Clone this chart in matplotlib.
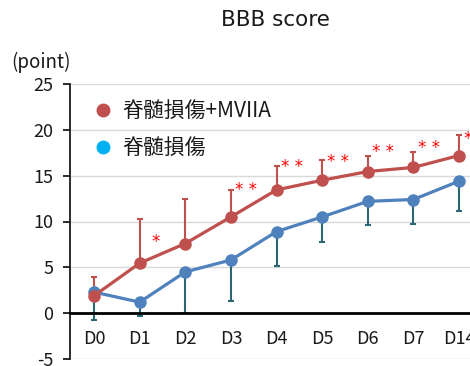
import matplotlib
matplotlib.use("Agg")
import matplotlib.pyplot as plt
from matplotlib.lines import Line2D

plt.rcParams['font.family'] = ['Noto Sans CJK JP', 'DejaVu Sans']
plt.rcParams['axes.unicode_minus'] = False

days = ['D0', 'D1', 'D2', 'D3', 'D4', 'D5', 'D6', 'D7', 'D14']

# BBB score, spinal cord injury + MVIIA (mean, upper SD)
mviia_mean = [1.9, 5.45, 7.6, 10.5, 13.45, 14.5, 15.45, 15.9, 17.2]
mviia_upper = [3.9, 10.3, 12.45, 13.45, 16.1, 16.7, 17.15, 17.6, 19.4]

# BBB score, spinal cord injury only (mean, lower SD)
sci_mean = [2.3, 1.2, 4.5, 5.8, 8.9, 10.5, 12.2, 12.4, 14.4]
sci_lower = [-0.7, -0.35, 0.0, 1.35, 5.1, 7.8, 9.6, 9.75, 11.1]

# significance marks and their heights
sig_marks = ['', '*', '', '**', '**', '**', '**', '**', '**']
sig_y = [0, 8.2, 0, 13.9, 16.4, 16.9, 18.0, 18.45, 19.45]

red = '#c0504d'
blue = '#4f81bd'
teal = '#2d6673'
ink = '#1a1a1a'

fig = plt.figure(figsize=(4.7, 3.66), dpi=100)
ax = fig.add_axes([70 / 470, 1 - 359 / 366, 400 / 470, 275 / 366])

x = list(range(len(days)))

err_up = [u - m for u, m in zip(mviia_upper, mviia_mean)]
err_dn = [m - l for m, l in zip(sci_mean, sci_lower)]

ax.errorbar(x, sci_mean, yerr=[err_dn, [0] * len(x)], fmt='none',
            ecolor=teal, elinewidth=1.5, capsize=2.2, capthick=1.5, zorder=2)
ax.errorbar(x, mviia_mean, yerr=[[0] * len(x), err_up], fmt='none',
            ecolor=red, elinewidth=1.5, capsize=2.2, capthick=1.5, zorder=2)
ax.plot(x, sci_mean, color=blue, lw=2.3, marker='o', ms=8, zorder=3)
ax.plot(x, mviia_mean, color=red, lw=2.3, marker='o', ms=8, zorder=4)

for i, (m, y) in enumerate(zip(sig_marks, sig_y)):
    if m:
        ax.text(i + 0.34, y - 0.45, ' '.join(m), color='red', fontsize=12,
                ha='center', va='center', family='DejaVu Sans')

ax.set_xlim(-0.526, 8.24)
ax.set_ylim(-5, 25)
ax.set_yticks(range(-5, 26, 5))
ax.set_xticks(x)
ax.set_xticklabels(days)
ax.grid(axis='y', color='#d9d9d9', lw=1)
ax.set_axisbelow(True)

for s in ['top', 'right']:
    ax.spines[s].set_visible(False)
ax.spines['bottom'].set_position(('data', 0))
ax.spines['bottom'].set_linewidth(2)
ax.spines['bottom'].set_color('black')
ax.spines['left'].set_linewidth(1.3)
ax.spines['left'].set_color(ink)
ax.tick_params(axis='x', length=0, pad=12, labelsize=13, colors=ink)
ax.tick_params(axis='y', length=5, width=1.3, pad=7, labelsize=13,
               colors=ink)

fig.text(275 / 470, 1 - 20 / 366, 'BBB score', ha='center', va='center',
         fontsize=15.5, family='DejaVu Sans', color=ink)
fig.text(11 / 470, 1 - 62 / 366, '(point)', ha='left', va='center',
         fontsize=13.5, color=ink)

handles = [
    Line2D([], [], ls='none', marker='o', ms=9, color=red),
    Line2D([], [], ls='none', marker='o', ms=9, color='#00b0f0'),
]
leg = ax.legend(handles, ['脊髄損傷+MVIIA', '脊髄損傷'], loc='upper left',
                bbox_to_anchor=(80 / 470, 1 - 92 / 366),
                bbox_transform=fig.transFigure, frameon=False, fontsize=15,
                handlelength=1.45, handletextpad=0.2, labelspacing=0.7,
                borderaxespad=0)
for t in leg.get_texts():
    t.set_color(ink)

fig.savefig('out.png', dpi=100)
